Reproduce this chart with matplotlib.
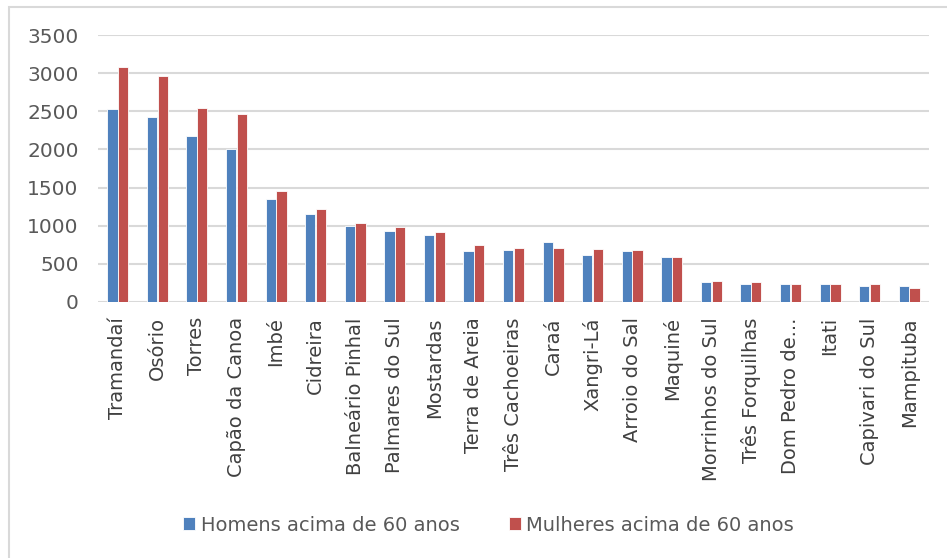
import numpy as np
import matplotlib
matplotlib.use("Agg")
import matplotlib.pyplot as plt
from matplotlib.patches import Rectangle

# municipios e populacao acima de 60 anos
municipios = ["Tramandaí", "Osório", "Torres", "Capão da Canoa", "Imbé", "Cidreira",
              "Balneário Pinhal", "Palmares do Sul", "Mostardas", "Terra de Areia",
              "Três Cachoeiras", "Caraá", "Xangri-Lá", "Arroio do Sal", "Maquiné",
              "Morrinhos do Sul", "Três Forquilhas", "Dom Pedro de...", "Itati",
              "Capivari do Sul", "Mampituba"]
homens = [2530, 2430, 2175, 2010, 1350, 1150, 1000, 930, 880, 665,
          678, 780, 612, 665, 595, 258, 240, 240, 240, 205, 205]
mulheres = [3080, 2968, 2545, 2460, 1450, 1215, 1030, 980, 912, 742,
            712, 712, 695, 678, 595, 275, 258, 240, 240, 240, 188]
yticks = [0, 500, 1000, 1500, 2000, 2500, 3000, 3500]

azul = "#4F81BD"
vermelho = "#C0504D"

fig = plt.figure(figsize=(9.47, 5.58), dpi=100, facecolor="w")
ax = fig.add_axes([0.1035, 0.459, 0.8775, 0.478])

x = np.arange(len(municipios))
w = 0.26
ax.bar(x - 0.135, homens, width=w, color=azul, edgecolor="white", linewidth=0.6,
       label="Homens acima de 60 anos", zorder=3)
ax.bar(x + 0.135, mulheres, width=w, color=vermelho, edgecolor="white", linewidth=0.6,
       label="Mulheres acima de 60 anos", zorder=3)

ax.set_xlim(-0.5, len(municipios) - 0.5)
ax.set_ylim(0, 3500)
ax.set_yticks(yticks)
ax.set_yticklabels([str(v) for v in yticks], fontsize=14.5, color="#595959")
ax.set_xticks(x)
ax.set_xticklabels(municipios, rotation=90, fontsize=14, color="#404040")
ax.tick_params(axis="both", length=0)
ax.tick_params(axis="x", pad=11)
ax.tick_params(axis="y", pad=14)
ax.grid(axis="y", color="#D9D9D9", linewidth=1.5, zorder=0)
for s in ax.spines.values():
    s.set_visible(False)

# legenda embaixo
leg = fig.legend(loc="center", bbox_to_anchor=(0.516, 0.059), ncol=2, frameon=False,
                 fontsize=14, handlelength=0.62, handleheight=0.62, handletextpad=0.3,
                 columnspacing=2.5)
for t in leg.get_texts():
    t.set_color("#595959")

# moldura do grafico
fig.patches.append(Rectangle((9 / 947, -0.01), 1.0, 1 - 7 / 558 + 0.01,
                             transform=fig.transFigure, fill=False,
                             edgecolor="#D9D9D9", linewidth=1.5))

fig.savefig("out.png", dpi=100)
